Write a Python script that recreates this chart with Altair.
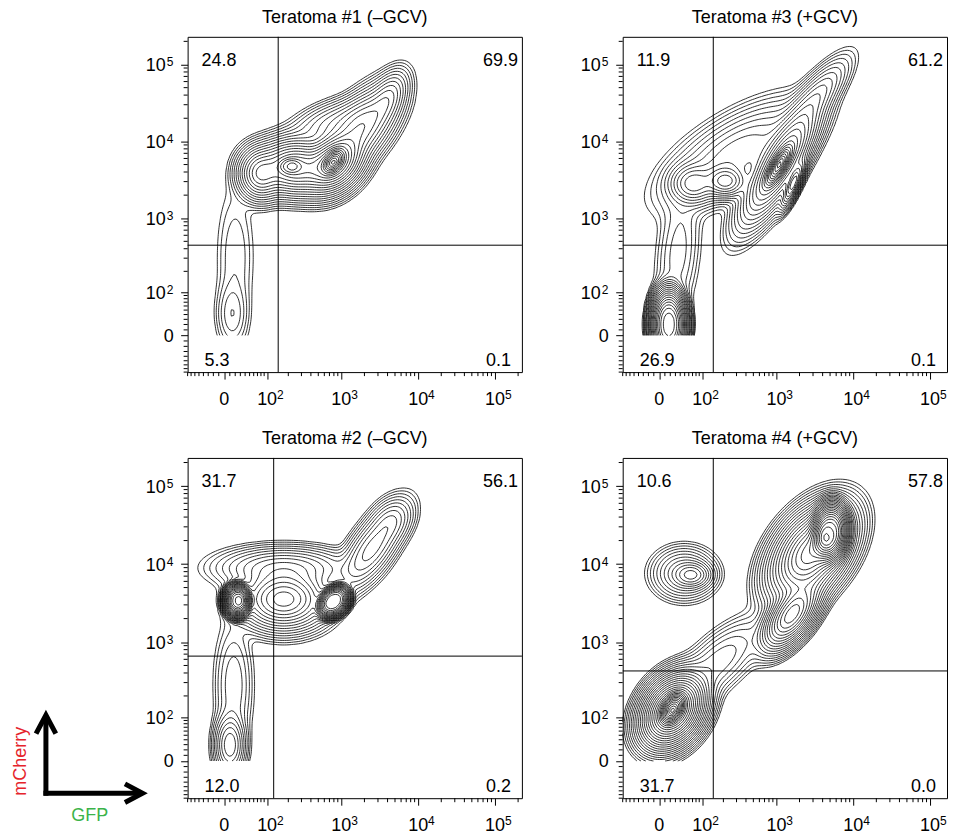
import numpy as np
import pandas as pd
import altair as alt

FONT = "Liberation Sans"

# ---------------- data ----------------
titles = ["Teratoma #1 (\u2013GCV)", "Teratoma #3 (+GCV)",
          "Teratoma #2 (\u2013GCV)", "Teratoma #4 (+GCV)"]
q_ul = ["24.8", "11.9", "31.7", "10.6"]
q_ur = ["69.9", "61.2", "56.1", "57.8"]
q_ll = ["5.3", "26.9", "12.0", "31.7"]
q_lr = ["0.1", "0.1", "0.2", "0.0"]
gate_gfp = [145, 145, 125, 145]       # vertical quadrant gate (GFP)
gate_mch = [445, 445, 660, 425]       # horizontal quadrant gate (mCherry)
tick_values = [0, 100, 1000, 10000, 100000]
tick_base = ["0", "10", "10", "10", "10"]
tick_exp = ["", "2", "3", "4", "5"]

# populations, in display decades:
# (centre GFP, centre mCherry, spread GFP, spread mCherry, correlation, relative height, flatness)
pops_1 = [
    (0.95, 2.58, 0.13, 0.15, 0.00, 0.30, 1.0),
    (1.40, 2.66, 0.22, 0.16, 0.00, 0.55, 1.0),
    (1.34, 2.68, 0.10, 0.07, 0.00, 0.25, 1.5),
    (1.90, 2.72, 0.17, 0.17, 0.30, 0.80, 1.0),
    (1.90, 2.74, 0.10, 0.12, 0.40, 0.45, 1.6),
    (2.25, 3.15, 0.22, 0.25, 0.60, 0.22, 1.0),
    (2.60, 3.55, 0.12, 0.17, 0.50, 0.08, 1.0),
    (1.95, 3.25, 0.28, 0.15, 0.50, 0.05, 1.0),
    (0.58, 0.75, 0.10, 0.22, 0.00, 0.015, 1.0),
    (0.62, 1.50, 0.13, 0.50, 0.00, 0.006, 1.0),
]
pops_3 = [
    (2.03, 2.68, 0.12, 0.18, 0.75, 0.60, 1.5),
    (2.05, 2.72, 0.22, 0.34, 0.80, 0.55, 1.0),
    (2.22, 2.45, 0.07, 0.14, 0.80, 0.40, 1.0),
    (1.34, 2.48, 0.13, 0.10, 0.00, 0.22, 1.0),
    (0.92, 2.45, 0.14, 0.12, 0.00, 0.12, 1.0),
    (1.50, 2.85, 0.42, 0.30, 0.65, 0.07, 1.0),
    (2.50, 3.55, 0.20, 0.24, 0.80, 0.06, 1.0),
    (0.60, 0.62, 0.15, 0.30, 0.00, 1.00, 1.6),
    (0.72, 1.55, 0.14, 0.45, 0.30, 0.012, 1.0),
]
pops_2 = [
    (0.65, 2.53, 0.13, 0.16, 0.00, 1.00, 2.0),
    (1.90, 2.52, 0.15, 0.15, 0.30, 0.90, 2.0),
    (1.25, 2.55, 0.25, 0.17, 0.00, 0.35, 1.0),
    (1.25, 2.95, 0.38, 0.12, 0.00, 0.07, 1.0),
    (2.40, 3.20, 0.20, 0.25, 0.70, 0.08, 1.0),
    (2.65, 3.55, 0.13, 0.14, 0.30, 0.03, 1.0),
    (0.55, 0.68, 0.09, 0.18, 0.00, 0.09, 1.0),
    (0.60, 1.45, 0.12, 0.40, 0.00, 0.012, 1.0),
]
pops_4 = [
    (2.70, 3.41, 0.16, 0.25, 0.10, 0.80, 1.6),
    (2.45, 3.15, 0.24, 0.27, 0.45, 0.45, 1.0),
    (2.20, 2.35, 0.17, 0.20, 0.60, 0.30, 1.0),
    (0.90, 2.86, 0.12, 0.08, 0.00, 0.06, 1.0),
    (0.80, 2.88, 0.20, 0.16, 0.00, 0.03, 1.0),
    (0.65, 1.12, 0.18, 0.20, 0.30, 0.80, 1.0),
    (0.65, 1.15, 0.12, 0.15, 0.40, 0.40, 1.8),
    (1.25, 1.75, 0.30, 0.28, 0.70, 0.018, 1.0),
]
pops = [pops_1, pops_3, pops_2, pops_4]
ring_count = [24, 24, 24, 30]

# ---------------- display transform (biexponential-like) ----------------
C = 30.0
def disp(v):
    v = np.asarray(v, dtype=float)
    return np.arcsinh(v / (2 * C)) / np.log(10) + np.log10(C) - 1

UNIT = 77.0                 # pixels per decade
YMAX = 4.36
YCUT = float(disp(0))

# ---------------- contour extraction (marching squares) ----------------
TABLE = {1: [(3, 0)], 2: [(0, 1)], 3: [(3, 1)], 4: [(1, 2)], 6: [(0, 2)], 7: [(3, 2)],
         8: [(2, 3)], 9: [(0, 2)], 11: [(1, 2)], 12: [(3, 1)], 13: [(0, 1)], 14: [(3, 0)]}

def march(xs, ys, Z, level):
    B = (Z >= level).astype(np.int16)
    case = B[:-1, :-1] + 2 * B[:-1, 1:] + 4 * B[1:, 1:] + 8 * B[1:, :-1]
    jj, ii = np.nonzero((case > 0) & (case < 15))
    pts = {}
    segs = []

    def key(e, j, i):
        if e == 0:
            return ('h', j, i)
        if e == 1:
            return ('v', j, i + 1)
        if e == 2:
            return ('h', j + 1, i)
        return ('v', j, i)

    def point(k):
        if k in pts:
            return
        t_, j, i = k
        if t_ == 'h':
            z0, z1 = Z[j, i], Z[j, i + 1]
            f = (level - z0) / (z1 - z0)
            pts[k] = (float(xs[i] + f * (xs[i + 1] - xs[i])), float(ys[j]))
        else:
            z0, z1 = Z[j, i], Z[j + 1, i]
            f = (level - z0) / (z1 - z0)
            pts[k] = (float(xs[i]), float(ys[j] + f * (ys[j + 1] - ys[j])))

    for j, i in zip(jj, ii):
        c = int(case[j, i])
        if c == 5 or c == 10:
            centre = 0.25 * (Z[j, i] + Z[j, i + 1] + Z[j + 1, i + 1] + Z[j + 1, i])
            inside = centre >= level
            pairs = [(0, 1), (2, 3)] if (c == 5) == inside else [(3, 0), (1, 2)]
        else:
            pairs = TABLE[c]
        for a, b in pairs:
            ka, kb = key(a, j, i), key(b, j, i)
            point(ka)
            point(kb)
            segs.append((ka, kb))

    adj = {}
    for sid, (a, b) in enumerate(segs):
        adj.setdefault(a, []).append(sid)
        adj.setdefault(b, []).append(sid)
    used = [False] * len(segs)

    def walk(k, sid):
        chain = [k]
        cur = k
        while sid is not None:
            used[sid] = True
            a, b = segs[sid]
            nxt = b if a == cur else a
            chain.append(nxt)
            cur = nxt
            sid = None
            for s in adj[cur]:
                if not used[s]:
                    sid = s
                    break
        return [pts[q] for q in chain]

    lines = []
    for k, lst in adj.items():
        if len(lst) == 1 and not used[lst[0]]:
            lines.append(walk(k, lst[0]))
    for sid in range(len(segs)):
        if not used[sid]:
            lines.append(walk(segs[sid][0], sid))
    return lines


def contour_frame(plist, n_rings, xmax, A=7.0, p=2.0):
    xs = np.linspace(0, xmax, int(xmax / 0.03) + 1)
    ys = np.linspace(YCUT, YMAX, 131)
    X, Y = np.meshgrid(xs, ys)
    Z = np.zeros_like(X)
    for cx, cy, sx, sy, r, w, b in plist:
        dx = (X - cx) / sx
        dy = (Y - cy) / sy
        Q = (dx * dx - 2 * r * dx * dy + dy * dy) / (1 - r * r)
        Z += w * np.exp(-0.5 * Q ** b)
    Z = Z / Z.max()
    levels = [np.exp(-A * (k / n_rings) ** p) for k in range(1, n_rings + 1)]
    rx, ry, rl, ro = [], [], [], []
    lid = 0
    for lev in levels:
        for line in march(xs, ys, Z, lev):
            if len(line) < 3:
                continue
            for o, (px, py) in enumerate(line):
                rx.append(round(px, 4))
                ry.append(round(py, 4))
                rl.append(lid)
                ro.append(o)
            lid += 1
    return pd.DataFrame({"x": rx, "y": ry, "lid": rl, "o": ro})

# ---------------- axes ----------------
tick_pos = [float(disp(v)) for v in tick_values]
minor_vals = [m * 10 ** k for k in range(1, 6) for m in range(1, 10)] + [-m * 10 for m in range(1, 10)]
minor_vals = [v for v in minor_vals if v not in tick_values]

one = pd.DataFrame({"a": [0]})

def label(text, x, y, align, color="black", angle=0):
    return alt.Chart(one).mark_text(text=text, align=align, baseline="middle", fontSize=18,
                                    font=FONT, color=color, angle=angle).encode(
        x=alt.value(x), y=alt.value(y))

def make_panel(i, W, H, extra=()):
    xmax = W / UNIT
    xscale = alt.Scale(domain=[0, xmax], nice=False, zero=False)
    yscale = alt.Scale(domain=[0, YMAX], nice=False, zero=False)
    common = dict(values=tick_pos, labels=False, title=None, grid=False, domain=False,
                  ticks=True, tickSize=7, tickColor="black", tickWidth=1)
    xaxis = alt.Axis(**common)
    yaxis = alt.Axis(**common)

    def XE(f):
        return alt.X(f"{f}:Q", scale=xscale, axis=xaxis)

    def YE(f):
        return alt.Y(f"{f}:Q", scale=yscale, axis=yaxis)

    df = contour_frame(pops[i], ring_count[i], xmax)
    lines = alt.Chart(df).mark_line(color="black", strokeWidth=0.8).encode(
        x=XE("x"), y=YE("y"), detail="lid:N", order="o:Q")
    vg = alt.Chart(pd.DataFrame({"g": [float(disp(gate_gfp[i]))]})).mark_rule(
        color="black", strokeWidth=1).encode(x=XE("g"))
    hg = alt.Chart(pd.DataFrame({"g": [float(disp(gate_mch[i]))]})).mark_rule(
        color="black", strokeWidth=1).encode(y=YE("g"))
    mxv = [float(disp(v)) for v in minor_vals if 0 <= disp(v) <= xmax]
    myv = [float(disp(v)) for v in minor_vals if 0 <= disp(v) <= YMAX]
    mx = alt.Chart(pd.DataFrame({"m": mxv})).mark_rule(color="black", strokeWidth=1).encode(
        x=XE("m"), y=alt.value(H), y2=alt.value(H + 4))
    my = alt.Chart(pd.DataFrame({"m": myv})).mark_rule(color="black", strokeWidth=1).encode(
        y=YE("m"), x=alt.value(0), x2=alt.value(-4))

    tdf = pd.DataFrame({"p": tick_pos, "b": tick_base, "e": tick_exp})
    xb = alt.Chart(tdf).mark_text(fontSize=18, font=FONT, align="center", baseline="alphabetic",
                                  color="black").encode(x=XE("p"), y=alt.value(H + 33), text="b:N")
    xe = alt.Chart(tdf).mark_text(fontSize=12, font=FONT, align="left", baseline="alphabetic",
                                  dx=10, color="black").encode(x=XE("p"), y=alt.value(H + 27), text="e:N")
    zdf = tdf[tdf["e"] == ""]
    pdf = tdf[tdf["e"] != ""]
    yz = alt.Chart(zdf).mark_text(fontSize=18, font=FONT, align="right", baseline="alphabetic",
                                  dy=6.5, color="black").encode(y=YE("p"), x=alt.value(-14), text="b:N")
    yb = alt.Chart(pdf).mark_text(fontSize=18, font=FONT, align="right", baseline="alphabetic",
                                  dy=6.5, color="black").encode(y=YE("p"), x=alt.value(-22), text="b:N")
    ye = alt.Chart(pdf).mark_text(fontSize=12, font=FONT, align="left", baseline="alphabetic",
                                  dy=1.5, color="black").encode(y=YE("p"), x=alt.value(-21), text="e:N")

    texts = [label(q_ul[i], 14, 24, "left"), label(q_ur[i], W - 4, 24, "right"),
             label(q_ll[i], 17, H - 11, "left"), label(q_lr[i], W - 11, H - 11, "right")]
    layers = [lines, vg, hg, mx, my, xb, xe, yz, yb, ye] + texts + list(extra)
    return alt.layer(*layers).properties(
        width=W, height=H,
        title=alt.TitleParams(titles[i], fontSize=18, font=FONT, fontWeight="normal",
                              color="black", anchor="middle", dx=-10, offset=9))

# arrow key (decoration) for the bottom-left panel
arrow = [
    alt.Chart(one).mark_rule(color="black", strokeWidth=5).encode(
        x=alt.value(-142), y=alt.value(262), y2=alt.value(338.5)),
    alt.Chart(one).mark_rule(color="black", strokeWidth=5).encode(
        x=alt.value(-144.5), x2=alt.value(-50), y=alt.value(336)),
    alt.Chart(one).mark_point(shape="M-0.9,0.85L0,-0.85L0.9,0.85", size=484, filled=False,
                              stroke="black", strokeWidth=5, opacity=1, strokeJoin="miter").encode(
        x=alt.value(-142), y=alt.value(267)),
    alt.Chart(one).mark_point(shape="M-0.8,-0.85L0.8,0L-0.8,0.85", size=484, filled=False,
                              stroke="black", strokeWidth=5, opacity=1, strokeJoin="miter").encode(
        x=alt.value(-54), y=alt.value(336)),
    label("mCherry", -167, 304, "center", color="#e5232b", angle=270),
    label("GFP", -98, 359, "center", color="#3bb34a"),
]

p1 = make_panel(0, 335, 336)
p3 = make_panel(1, 325, 336)
p2 = make_panel(2, 335, 341, arrow)
p4 = make_panel(3, 325, 341)

chart = alt.concat(p1, p3, p2, p4, columns=2).properties(
    spacing={"row": 86, "column": 101}, bounds="flush",
    padding={"left": 3, "top": 0, "right": 0, "bottom": 0}
).configure(font=FONT).configure_view(stroke="black", strokeWidth=1)

chart.save("out.html", embed_options={"renderer": "svg", "actions": False})
